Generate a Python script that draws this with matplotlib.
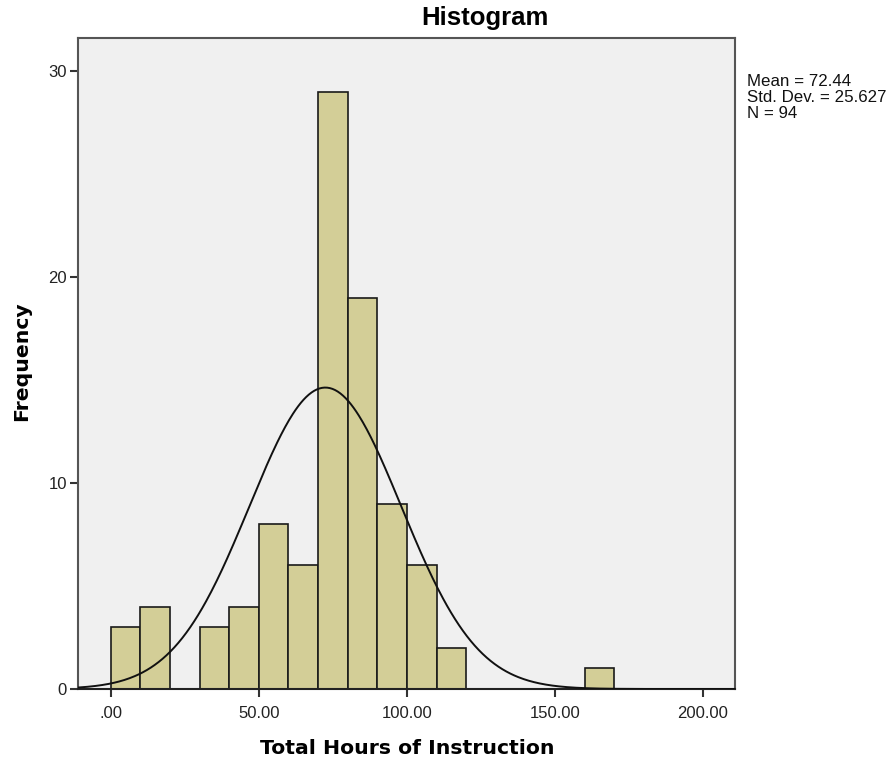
import matplotlib
matplotlib.use('Agg')
import matplotlib.pyplot as plt
import numpy as np

# bin edges (width 10) and counts per bin
bin_edges = [0, 10, 20, 30, 40, 50, 60, 70, 80, 90, 100, 110, 120, 130, 140, 150, 160, 170]
counts = [3, 4, 0, 3, 4, 8, 6, 29, 19, 9, 6, 2, 0, 0, 0, 0, 1]
mean = 72.44
std = 25.627
n = 94

x_ticks = [0, 50, 100, 150, 200]
x_tick_labels = ['.00', '50.00', '100.00', '150.00', '200.00']
y_ticks = [0, 10, 20, 30]

plt.rcParams['font.family'] = ['Liberation Sans', 'DejaVu Sans']

W, H = 892, 761
fig = plt.figure(figsize=(W / 100, H / 100), dpi=100)
ax = fig.add_axes([0.0874, 0.0946, 0.7366, 0.8554])
ax.set_facecolor('#f0f0f0')

widths = np.diff(bin_edges)
heights = np.array(counts)
mask = heights > 0
ax.bar(np.array(bin_edges[:-1])[mask], heights[mask], width=widths[mask], align='edge',
       color='#d3ce97', edgecolor='#1a1a1a', linewidth=1.2, zorder=2)

# normal curve scaled to counts
xs = np.linspace(-11, 211, 500)
ys = n * 10 / (std * np.sqrt(2 * np.pi)) * np.exp(-0.5 * ((xs - mean) / std) ** 2)
ax.plot(xs, ys, color='#111111', linewidth=1.4, zorder=3)

ax.set_xlim(-11.1, 210.8)
ax.set_ylim(0, 31.6)
ax.set_xticks(x_ticks)
ax.set_xticklabels(x_tick_labels)
ax.set_yticks(y_ticks)
ax.tick_params(axis='both', direction='out', length=6, width=1.5, color='#333333',
               labelsize=12, labelcolor='#222222', pad=6)
ax.tick_params(axis='y', pad=2)
for s in ax.spines.values():
    s.set_color('#555555')
    s.set_linewidth(1.5)
ax.spines['bottom'].set_color('#222222')

# titles placed in figure pixels
fig.text(485 / W, 1 - 18 / H, 'Histogram', fontsize=18.5, fontweight='bold',
         ha='center', va='center')
fig.text(407 / W, 1 - 748 / H, 'Total Hours of Instruction', fontsize=14.7,
         fontweight='bold', family='DejaVu Sans', ha='center', va='center')
fig.text(22 / W, 1 - 361 / H, 'Frequency', fontsize=14.7, fontweight='bold',
         family='DejaVu Sans', rotation=90, ha='center', va='center')

stats = ['Mean = %.2f' % mean, 'Std. Dev. = %.3f' % std, 'N = %d' % n]
for i, line in enumerate(stats):
    fig.text(747 / W, 1 - (81 + 16.5 * i) / H, line, fontsize=12.2,
             ha='left', va='center', color='#111111')

fig.savefig('out.png', dpi=100)
